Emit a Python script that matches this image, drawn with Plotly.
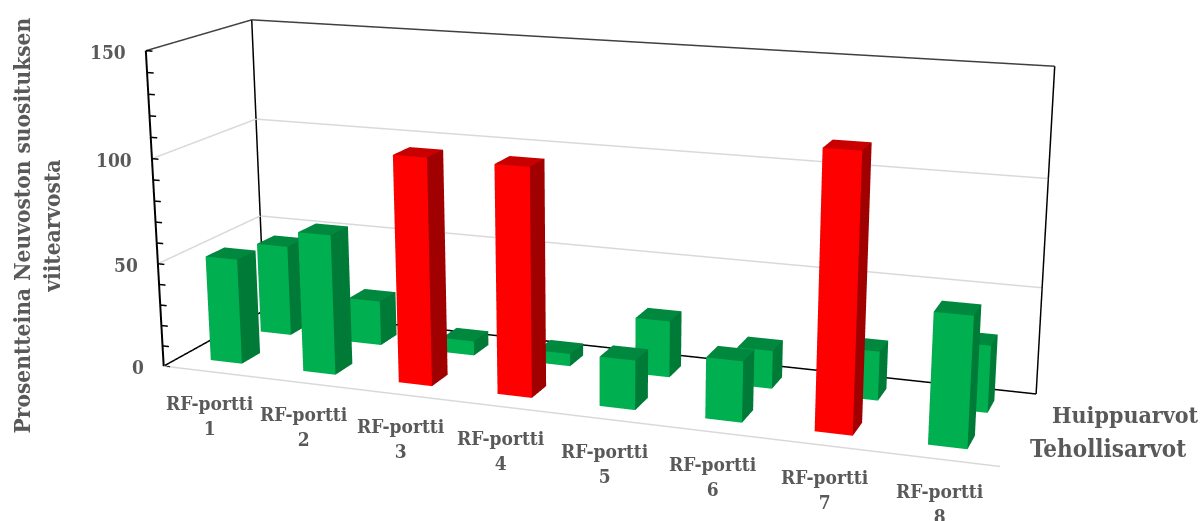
import plotly.graph_objects as go

categories = ["RF-portti<br>%d" % i for i in range(1, 9)]
series_names = ["Huippuarvot", "Tehollisarvot"]
front_values = [51, 67, 107, 106.5, 23, 28, 124.5, 58.5]
back_values = [45, 22, 7, 6, 27, 18, 23, 31]
front_colors = ["g", "g", "r", "r", "g", "g", "r", "g"]
z_ticks = [0, 50, 100, 150]
minor_ticks = list(range(0, 151, 10))
axis_title = "Prosentteina Neuvoston suosituksen<br>viitearvosta"

GREEN = ("#00B050", "#007A37", "#00883F")
RED = ("#FF0000", "#A00000", "#C80000")
HALF_X, HALF_Y = 0.17, 0.18

# Box proportions and camera of the 3D scene. The long lens needs a tall viewport,
# so the figure is taller than the page and gets shifted up when it is shown.
FIG_H = 1751
TOP_OFFSET = 615
BOX_X, BOX_Y, BOX_Z = 2.4, 0.5994, 0.9157
EYE = dict(x=1.9434, y=-5.3243, z=1.4243)
CENTER = dict(x=0.0443, y=-0.0490, z=-0.0928)
UP = dict(x=-0.0010, y=-0.0026, z=1)

XA, XB, YA, YB, ZA, ZB = 0.5, 8.5, 0, 2, 0, 150
# The axis ranges get a small even margin so lines on the box edges are not clipped.
PAD_X, PAD_Y, PAD_Z = 0.2, 0.05, 4


def bar_mesh(x, y, h, colors):
    x0, x1, y0, y1 = x - HALF_X, x + HALF_X, y - HALF_Y, y + HALF_Y
    vx = [x0, x1, x1, x0, x0, x1, x1, x0]
    vy = [y0, y0, y1, y1, y0, y0, y1, y1]
    vz = [0, 0, 0, 0, h, h, h, h]
    faces = [(0, 1, 5, 0), (0, 5, 4, 0), (1, 2, 6, 1), (1, 6, 5, 1), (4, 5, 6, 2), (4, 6, 7, 2),
             (3, 0, 4, 1), (3, 4, 7, 1), (2, 3, 7, 1), (2, 7, 6, 1), (0, 1, 2, 2), (0, 2, 3, 2)]
    return go.Mesh3d(x=vx, y=vy, z=vz,
                     i=[f[0] for f in faces], j=[f[1] for f in faces], k=[f[2] for f in faces],
                     facecolor=[colors[f[3]] for f in faces], flatshading=True,
                     lighting=dict(ambient=1, diffuse=0, specular=0, fresnel=0, roughness=1),
                     hoverinfo="skip", showscale=False)


fig = go.Figure()
for i, (fv, bv, c) in enumerate(zip(front_values, back_values, front_colors)):
    fig.add_trace(bar_mesh(i + 1, 0.5, fv, RED if c == "r" else GREEN))
    fig.add_trace(bar_mesh(i + 1, 1.5, bv, GREEN))


def line(xs, ys, zs, color, width):
    fig.add_trace(go.Scatter3d(x=xs, y=ys, z=zs, mode="lines", line=dict(color=color, width=width),
                               hoverinfo="skip", showlegend=False))


# Gridlines on the walls and the front edge of the floor
for z in z_ticks[1:3]:
    line([XA, XA, XB], [YA, YB, YB], [z, z, z], "#D9D9D9", 3)
line([XA, XB], [YA, YA], [ZA, ZA], "#D9D9D9", 3)
# Box outline
line([XA, XA, XB], [YA, YB, YB], [ZB, ZB, ZB], "#404040", 3)
line([XB, XB], [YB, YB], [ZB, ZA], "#000000", 3)
line([XA, XB], [YB, YB], [ZA, ZA], "#000000", 3)
line([XA, XA], [YB, YB], [ZB, ZA], "#000000", 3)
line([XA, XA], [YB, YA], [ZA, ZA], "#000000", 3)
# Value axis and its tick marks
line([XA, XA], [YA, YA], [ZA, ZB], "#000000", 4)
tx, ty, tz = [], [], []
for m in minor_ticks:
    tx += [XA, XA + 0.07, None]
    ty += [YA, YA, None]
    tz += [m, m, None]
line(tx, ty, tz, "#000000", 3)

GREY = "#595959"
FONT = "DejaVu Serif Condensed"
anns = []
for i, c in enumerate(categories):
    anns.append(dict(x=i + 1, y=YA, z=ZA, text="<b>%s</b>" % c, showarrow=False, xshift=0, yshift=-44,
                     font=dict(family=FONT, size=19, color=GREY)))
for t in z_ticks:
    anns.append(dict(x=XA, y=YA, z=t, text="<b>%d</b>" % t, showarrow=False, xanchor="right", xshift=-18,
                     yshift=-1, font=dict(family=FONT, size=19, color=GREY)))
anns.append(dict(x=XB, y=1.5, z=ZA, text="<b>%s</b>" % series_names[0], showarrow=False, xanchor="left",
                 xshift=22, yshift=-4, font=dict(family=FONT, size=23, color=GREY)))
anns.append(dict(x=XB, y=0.5, z=ZA, text="<b>%s</b>" % series_names[1], showarrow=False, xanchor="left",
                 xshift=18, yshift=-2, font=dict(family=FONT, size=24, color=GREY)))
anns.append(dict(x=XA, y=YA, z=75, text="<b>%s</b>" % axis_title, textangle=-90, showarrow=False,
                 xshift=-118, yshift=-14, font=dict(family=FONT, size=22.5, color=GREY)))

ax = dict(visible=False, showbackground=False, showgrid=False, zeroline=False, showspikes=False)
fig.update_layout(
    width=1200, height=FIG_H, margin=dict(l=0, r=0, t=0, b=0), paper_bgcolor="white", showlegend=False,
    scene=dict(
        domain=dict(x=[0, 1], y=[0, 1]),
        xaxis=dict(range=[XA - PAD_X, XB + PAD_X], **ax),
        yaxis=dict(range=[YA - PAD_Y, YB + PAD_Y], **ax),
        zaxis=dict(range=[ZA - PAD_Z, ZB + PAD_Z], **ax),
        aspectmode="manual",
        aspectratio=dict(x=BOX_X * (XB - XA + 2 * PAD_X) / (XB - XA),
                         y=BOX_Y * (YB - YA + 2 * PAD_Y) / (YB - YA),
                         z=BOX_Z * (ZB - ZA + 2 * PAD_Z) / (ZB - ZA)),
        camera=dict(eye=EYE, center=CENTER, up=UP, projection=dict(type="perspective")),
        annotations=anns,
    ),
)
shift_up = ("var d=document.getElementById('{plot_id}');d.style.position='absolute';d.style.left='0';"
            "d.style.top='-%dpx';document.documentElement.style.overflow='hidden';"
            "document.body.style.overflow='hidden';" % TOP_OFFSET)
fig.write_html("out.html", post_script=shift_up)
